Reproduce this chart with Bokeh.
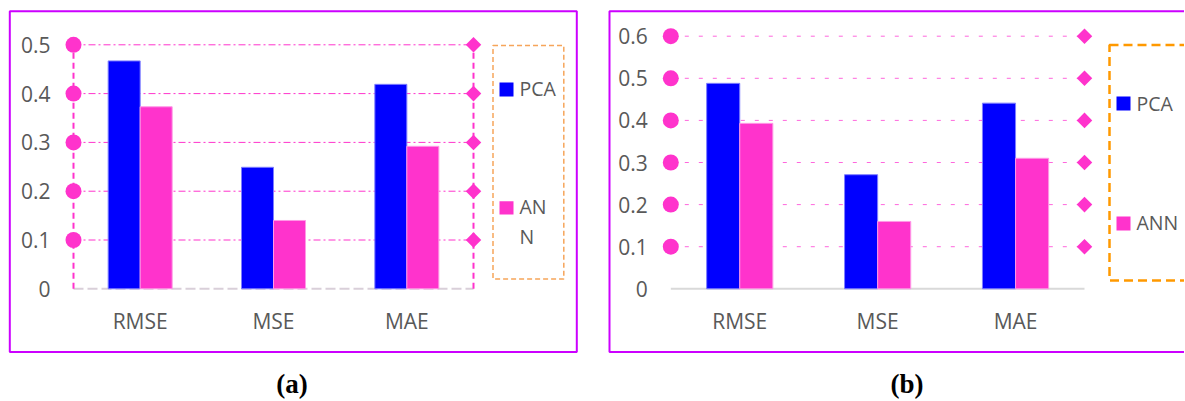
import math
from bokeh.plotting import figure
from bokeh.models import ColumnDataSource, Range1d, BoxAnnotation, Label
from bokeh.transform import dodge
from bokeh.layouts import row
from bokeh.core.properties import value
from bokeh.embed import file_html
from bokeh.resources import INLINE

# ---------------- data ----------------
categories = ["RMSE", "MSE", "MAE"]
series_names = ["PCA", "ANN"]
pca_a = [0.467, 0.249, 0.419]
ann_a = [0.373, 0.140, 0.292]
pca_b = [0.488, 0.271, 0.441]
ann_b = [0.393, 0.160, 0.310]
y_ticks_a = [0, 0.1, 0.2, 0.3, 0.4, 0.5]
y_tick_labels_a = ["0", "0.1", "0.2", "0.3", "0.4", "0.5"]
y_ticks_b = [0, 0.1, 0.2, 0.3, 0.4, 0.5, 0.6]
y_tick_labels_b = ["0", "0.1", "0.2", "0.3", "0.4", "0.5", "0.6"]
legend_lines_a = [["PCA"], ["AN", "N"]]
legend_lines_b = [["PCA"], ["ANN"]]
captions = ["(a)", "(b)"]

# ---------------- style ----------------
BLUE = "#0000FF"
PINK = "#FF33CC"
TXT = "#595959"
FRAME = "#CC00FF"
FONT = "Open Sans"
BAR_W = 0.24
H = 400

n_cat = len(categories)
x_pos = [i + 0.5 for i in range(n_cat)]       # category centres
x_left, x_right = 0, n_cat                     # category band edges


def panel(width, xr, yr):
    p = figure(width=width, height=H, x_range=Range1d(*xr), y_range=Range1d(*yr),
               x_axis_location=None, y_axis_location=None, min_border=0,
               output_backend="svg", toolbar_location=None)
    p.xgrid.visible = False
    p.ygrid.visible = False
    p.outline_line_color = None
    p.background_fill_color = "white"
    return p


def bars(p, pca, ann):
    src = ColumnDataSource(dict(x=x_pos, cat=categories, pca=pca, ann=ann,
                                zero=[0] * n_cat))
    p.vbar(x=dodge("x", -BAR_W / 2), top="pca", width=BAR_W, source=src,
           fill_color=BLUE, line_color="#7F7FFF", line_width=1)
    p.vbar(x=dodge("x", BAR_W / 2), top="ann", width=BAR_W, source=src,
           fill_color=PINK, line_color="#FF99E6", line_width=1)
    p.text(x="x", y="zero", text="cat", source=src, y_offset=32,
           text_align="center", text_baseline="middle", text_font=value(FONT),
           text_font_size="21px", text_color=TXT)


def grid_src(ticks):
    k = len(ticks) - 1
    return ColumnDataSource(dict(y=ticks[1:], x0=[x_left] * k, x1=[x_right] * k))


def tick_labels(p, ticks, labels):
    src = ColumnDataSource(dict(y=ticks, lbl=labels, x=[x_left] * len(ticks)))
    p.text(x="x", y="y", text="lbl", source=src, x_offset=-23,
           text_align="right", text_baseline="middle", text_font=value(FONT),
           text_font_size="21px", text_color=TXT)


def markers(p, gsrc):
    p.scatter(x="x0", y="y", source=gsrc, marker="circle", size=16,
              fill_color=PINK, line_color=None)
    p.scatter(x="x1", y="y", source=gsrc, marker="square", angle=math.pi / 4,
              size=11, fill_color=PINK, line_color=None)


def box(p, l, r, t, b, **kw):
    p.add_layout(BoxAnnotation(left=l, right=r, top=t, bottom=b,
                               left_units="canvas", right_units="canvas",
                               top_units="canvas", bottom_units="canvas", **kw))


def text(p, s, x, y_top, size="19.5px", color=TXT, font=FONT, style="normal",
         align="left"):
    p.add_layout(Label(x=x, y=H - y_top, x_units="screen", y_units="screen",
                       text=s, text_font=font, text_font_size=size,
                       text_color=color, text_font_style=style,
                       text_align=align, text_baseline="middle"))


# ================= panel (a) =================
pa = panel(604, (-0.5475, 3.9825), (-0.2289, 0.5908))
ga = grid_src(y_ticks_a)
pa.segment(x0="x0", y0="y", x1="x1", y1="y", source=ga, line_color=PINK,
           line_width=1, line_dash="7 3 2 3")
ea = ColumnDataSource(dict(x0=[x_left], x1=[x_right], y0=[y_ticks_a[0]],
                           y1=[y_ticks_a[-1]]))
pa.segment(x0="x0", y0="y0", x1="x1", y1="y0", source=ea,
           line_color="#D9CFD9", line_width=2, line_dash="10 4")
bars(pa, pca_a, ann_a)
pa.segment(x0="x0", y0="y0", x1="x0", y1="y1", source=ea, line_color=PINK,
           line_width=2, line_dash="6 4")
pa.segment(x0="x1", y0="y0", x1="x1", y1="y1", source=ea, line_color=PINK,
           line_width=2, line_dash="6 4")
markers(pa, ga)
tick_labels(pa, y_ticks_a, y_tick_labels_a)

box(pa, 9.3, 576.3, 10.8, 351.5, fill_color=None, line_color=FRAME,
    line_width=2, line_alpha=1)
box(pa, 492.5, 563.3, 45, 278.5, fill_color=None, line_color="#F6A55A",
    line_width=1.5, line_alpha=1, line_dash="5 3")
box(pa, 499, 513, 82, 96, fill_color=BLUE, fill_alpha=1, line_color=None)
box(pa, 499, 513, 200.7, 214, fill_color=PINK, fill_alpha=1, line_color=None)
text(pa, legend_lines_a[0][0], 519, 88)
text(pa, legend_lines_a[1][0], 519, 205.5)
text(pa, legend_lines_a[1][1], 519, 235.5)
text(pa, captions[0], 291.5, 383, size="27px", color="black",
     font="Liberation Serif", style="bold", align="center")

# ================= panel (b) =================
pb = panel(580, (-0.4808, 3.7252), (-0.2653, 0.6848))
gb = grid_src(y_ticks_b)
pb.segment(x0="x0", y0="y", x1="x1", y1="y", source=gb, line_color="#FF66DD",
           line_width=1, line_dash="4 10")
eb = ColumnDataSource(dict(x0=[x_left], x1=[x_right], y0=[y_ticks_b[0]]))
pb.segment(x0="x0", y0="y0", x1="x1", y1="y0", source=eb,
           line_color="#D9D9D9", line_width=2)
bars(pb, pca_b, ann_b)
markers(pb, gb)
tick_labels(pb, y_ticks_b, y_tick_labels_b)

box(pb, 5, 700, 10.8, 351.5, fill_color=None, line_color=FRAME,
    line_width=2, line_alpha=1)
box(pb, 505, 700, 44.5, 280, fill_color=None, line_color="#FF9900",
    line_width=2.5, line_alpha=1, line_dash="9 5")
box(pb, 512, 526, 96, 110, fill_color=BLUE, fill_alpha=1, line_color=None)
box(pb, 512, 526, 216, 230, fill_color=PINK, fill_alpha=1, line_color=None)
text(pb, legend_lines_b[0][0], 532, 103.3)
text(pb, legend_lines_b[1][0], 532, 222)
text(pb, captions[1], 302.5, 383, size="27px", color="black",
     font="Liberation Serif", style="bold", align="center")

layout = row(pa, pb)
open("out.html", "w").write(file_html(layout, INLINE))
